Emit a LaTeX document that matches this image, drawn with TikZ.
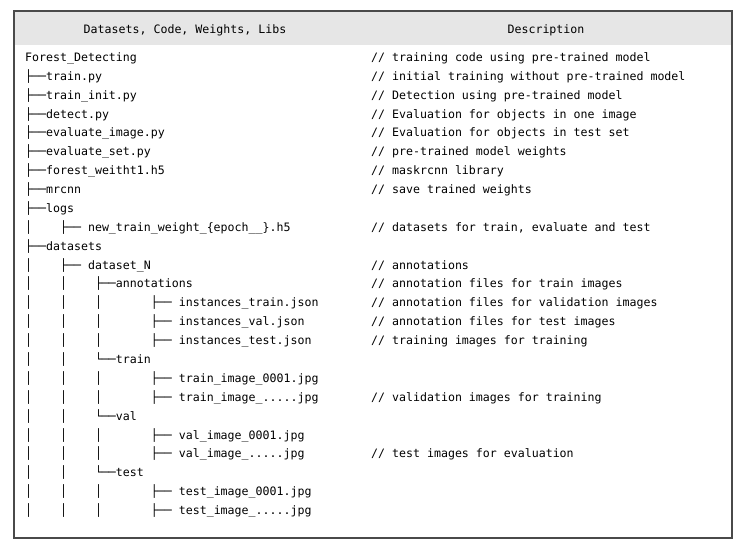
\documentclass[tikz,border=0pt]{standalone}
\usepackage{fontspec}
\setmainfont{DejaVu Sans Mono}
\usepackage{tikz}
\definecolor{headGray}{HTML}{E6E6E6}
\definecolor{frameGray}{HTML}{4A4A4A}

\begin{document}
\begin{tikzpicture}[x=1pt, y=-1pt, every node/.style={font=\fontsize{11.6}{14}\selectfont, inner sep=0pt}]
	\tikzset{entry/.style={anchor=base west},
		note/.style={anchor=base west},
		head/.style={anchor=base}}
	\useasboundingbox (0,0) rectangle (740,548);
	\fill[headGray] (14,12) rectangle (732,45);
	\draw[frameGray, line width=1.2pt] (14,11) rectangle (732,538);
	\node[head] (hleft) at (185,33.5) {Datasets, Code, Weights, Libs};
	\node[head] (hright) at (546,33.5) {Description};
	% folder tree
	\node[entry] (f0) at (25,61.5) {Forest\_Detecting};
	\node[entry] (f1) at (25,80.4) {├──train.py};
	\node[entry] (f2) at (25,99.3) {├──train\_init.py};
	\node[entry] (f3) at (25,118.1) {├──detect.py};
	\node[entry] (f4) at (25,137.0) {├──evaluate\_image.py};
	\node[entry] (f5) at (25,155.9) {├──evaluate\_set.py};
	\node[entry] (f6) at (25,174.8) {├──forest\_weitht1.h5};
	\node[entry] (f7) at (25,193.6) {├──mrcnn};
	\node[entry] (f8) at (25,212.5) {├──logs};
	\node[entry] (f9) at (25,231.4) {│~~~~├──~new\_train\_weight\_\{epoch\_\_\}.h5};
	\node[entry] (f10) at (25,250.3) {├──datasets};
	\node[entry] (f11) at (25,269.1) {│~~~~├──~dataset\_N};
	\node[entry] (f12) at (25,288.0) {│~~~~│~~~~├──annotations};
	\node[entry] (f13) at (25,306.9) {│~~~~│~~~~│~~~~~~~├──~instances\_train.json};
	\node[entry] (f14) at (25,325.8) {│~~~~│~~~~│~~~~~~~├──~instances\_val.json};
	\node[entry] (f15) at (25,344.6) {│~~~~│~~~~│~~~~~~~├──~instances\_test.json};
	\node[entry] (f16) at (25,363.5) {│~~~~│~~~~└──train};
	\node[entry] (f17) at (25,382.4) {│~~~~│~~~~│~~~~~~~├──~train\_image\_0001.jpg};
	\node[entry] (f18) at (25,401.3) {│~~~~│~~~~│~~~~~~~├──~train\_image\_.....jpg};
	\node[entry] (f19) at (25,420.1) {│~~~~│~~~~└──val};
	\node[entry] (f20) at (25,439.0) {│~~~~│~~~~│~~~~~~~├──~val\_image\_0001.jpg};
	\node[entry] (f21) at (25,457.9) {│~~~~│~~~~│~~~~~~~├──~val\_image\_.....jpg};
	\node[entry] (f22) at (25,476.8) {│~~~~│~~~~└──test};
	\node[entry] (f23) at (25,495.6) {│~~~~│~~~~│~~~~~~~├──~test\_image\_0001.jpg};
	\node[entry] (f24) at (25,514.5) {│~~~~│~~~~│~~~~~~~├──~test\_image\_.....jpg};
	% descriptions
	\node[note] (c0) at (371,61.5) {// training code using pre-trained model};
	\node[note] (c1) at (371,80.4) {// initial training without pre-trained model};
	\node[note] (c2) at (371,99.3) {// Detection using pre-trained model};
	\node[note] (c3) at (371,118.1) {// Evaluation for objects in one image};
	\node[note] (c4) at (371,137.0) {// Evaluation for objects in test set};
	\node[note] (c5) at (371,155.9) {// pre-trained model weights};
	\node[note] (c6) at (371,174.8) {// maskrcnn library};
	\node[note] (c7) at (371,193.6) {// save trained weights};
	\node[note] (c9) at (371,231.4) {// datasets for train, evaluate and test};
	\node[note] (c11) at (371,269.1) {// annotations};
	\node[note] (c12) at (371,288.0) {// annotation files for train images};
	\node[note] (c13) at (371,306.9) {// annotation files for validation images};
	\node[note] (c14) at (371,325.8) {// annotation files for test images};
	\node[note] (c15) at (371,344.6) {// training images for training};
	\node[note] (c18) at (371,401.3) {// validation images for training};
	\node[note] (c21) at (371,457.9) {// test images for evaluation};
\end{tikzpicture}
\end{document}
